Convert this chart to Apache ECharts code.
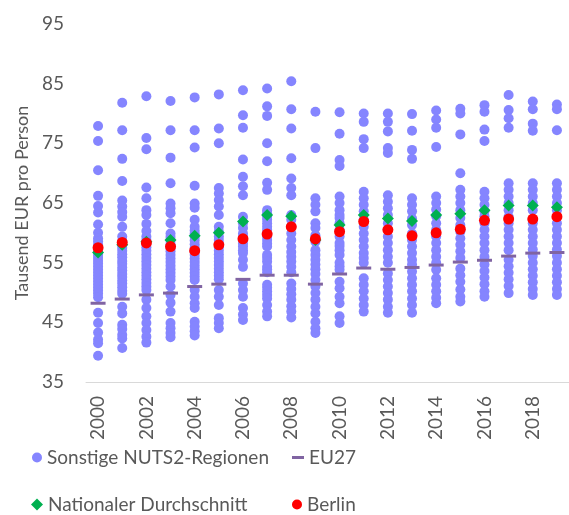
<!DOCTYPE html>
<html>
<head>
<meta charset="utf-8">
<script src="https://cdn.jsdelivr.net/npm/echarts@6/dist/echarts.min.js"></script>
<style>
html,body{margin:0;padding:0;background:#fff;}
#chart{width:569px;height:515px;}
</style>
</head>
<body>
<div id="chart"></div>
<script>
const years = ['2000','2001','2002','2003','2004','2005','2006','2007','2008','2009','2010','2011','2012','2013','2014','2015','2016','2017','2018','2019'];

const r2000 = [77.9, 75.4, 70.5, 66.2, 64.5, 63.4, 61.4, 60.0, 59.1, 58.6, 58.0, 57.4, 56.8, 56.3, 55.8, 55.3, 54.8, 54.3, 53.8, 53.3, 52.8, 52.3, 51.8, 51.3, 50.8, 50.3, 49.8, 49.2, 46.6, 44.9, 43.3, 42.1, 41.5, 39.4];
const r2001 = [81.8, 77.2, 72.4, 68.7, 65.4, 64.4, 63.5, 62.7, 61.0, 59.4, 58.6, 58.0, 57.5, 57.0, 56.4, 55.9, 55.3, 54.8, 54.2, 53.7, 53.1, 52.6, 52.0, 51.5, 50.9, 50.3, 49.8, 47.6, 46.5, 44.6, 43.9, 42.9, 42.3, 40.7];
const r2002 = [82.9, 75.9, 74.0, 67.6, 65.8, 63.8, 63.0, 61.5, 60.3, 59.4, 58.8, 58.2, 57.6, 57.0, 56.4, 55.8, 55.2, 54.6, 54.0, 53.4, 52.8, 52.2, 51.6, 51.0, 50.4, 48.8, 47.4, 46.0, 44.9, 43.7, 42.6, 41.6];
const r2003 = [82.1, 77.2, 72.6, 68.3, 64.9, 64.1, 63.3, 61.6, 59.9, 59.3, 58.7, 58.1, 57.5, 56.9, 56.3, 55.7, 55.1, 54.5, 53.9, 53.3, 52.7, 52.1, 51.0, 49.6, 48.3, 46.8, 44.9, 44.0, 43.2, 42.5];
const r2004 = [82.7, 77.2, 74.3, 67.9, 64.9, 64.2, 62.2, 61.0, 60.4, 59.9, 59.3, 58.7, 58.1, 57.5, 56.9, 56.3, 55.7, 55.1, 54.5, 53.9, 53.3, 52.7, 52.1, 50.4, 49.3, 48.2, 47.4, 45.1, 44.3, 43.5, 42.8];
const r2005 = [83.2, 77.5, 75.0, 67.5, 66.6, 65.5, 64.4, 63.0, 61.0, 60.2, 59.4, 58.8, 58.2, 57.6, 57.0, 56.4, 55.8, 55.2, 54.6, 54.0, 53.4, 52.8, 52.2, 50.4, 49.3, 47.9, 45.7, 44.9, 44.0];
const r2006 = [83.9, 79.7, 77.6, 72.3, 69.4, 67.8, 66.3, 62.7, 61.6, 60.8, 59.9, 59.3, 58.8, 58.2, 57.7, 57.1, 56.6, 55.5, 54.3, 51.5, 50.4, 49.3, 47.4, 46.3, 45.4];
const r2007 = [84.2, 81.2, 79.6, 75.0, 72.0, 68.4, 67.2, 63.8, 63.3, 62.7, 62.2, 61.6, 61.0, 60.5, 59.9, 59.4, 58.8, 58.2, 57.7, 56.3, 55.8, 55.2, 54.3, 53.9, 53.4, 51.3, 50.8, 50.2, 49.6, 49.0, 47.9, 46.8, 46.0];
const r2008 = [85.4, 80.7, 77.5, 72.5, 69.1, 67.5, 66.3, 63.0, 62.2, 61.0, 59.9, 58.8, 57.7, 56.8, 56.0, 55.2, 54.3, 53.4, 51.5, 50.6, 49.7, 48.8, 47.7, 46.8, 45.8];
const r2009 = [80.3, 74.2, 65.8, 64.7, 63.6, 61.6, 60.8, 59.6, 58.5, 57.1, 56.3, 55.5, 54.7, 53.9, 53.1, 52.1, 51.0, 49.9, 48.8, 47.6, 46.5, 45.1, 44.0, 43.2];
const r2010 = [80.2, 76.6, 72.2, 71.2, 66.1, 65.0, 63.8, 63.0, 62.5, 61.6, 60.5, 59.4, 58.3, 57.8, 57.1, 56.3, 55.0, 54.4, 53.8, 51.8, 50.7, 49.3, 48.2, 46.0, 44.9];
const r2011 = [80.0, 78.6, 75.7, 74.2, 66.9, 65.8, 64.7, 63.6, 62.2, 61.0, 59.9, 58.8, 57.7, 56.6, 55.8, 55.0, 52.4, 51.3, 50.2, 49.0, 47.9, 46.8];
const r2012 = [80.0, 78.6, 77.0, 74.2, 73.4, 66.3, 65.2, 64.1, 63.0, 61.6, 60.5, 59.4, 58.3, 57.1, 56.0, 55.0, 53.2, 52.1, 51.0, 49.9, 48.8, 47.6, 46.6];
const r2013 = [79.9, 77.1, 73.9, 72.4, 65.8, 64.7, 63.6, 62.4, 61.3, 59.9, 58.8, 57.7, 56.6, 55.5, 54.7, 53.5, 52.4, 51.3, 50.2, 49.0, 47.9, 46.6];
const r2014 = [80.5, 79.0, 77.6, 74.4, 66.1, 65.0, 63.9, 62.8, 61.6, 60.5, 59.4, 58.3, 57.1, 56.0, 55.0, 53.8, 52.4, 51.3, 50.2, 49.1, 48.2];
const r2015 = [80.8, 80.0, 76.5, 70.0, 67.2, 66.1, 65.0, 63.8, 62.5, 61.3, 60.2, 59.1, 58.0, 56.9, 55.8, 54.0, 52.9, 51.8, 50.5, 49.3, 48.5];
const r2016 = [81.4, 80.3, 77.3, 75.4, 66.9, 65.8, 64.7, 63.6, 62.8, 61.6, 60.5, 59.4, 58.3, 57.1, 56.0, 54.7, 53.6, 52.5, 51.4, 50.2, 49.3];
const r2017 = [83.1, 80.6, 79.2, 77.6, 68.3, 67.2, 66.1, 65.0, 63.8, 62.7, 61.6, 60.5, 59.4, 58.3, 57.1, 55.5, 54.4, 53.3, 52.2, 51.1, 49.9];
const r2018 = [82.0, 80.7, 78.3, 77.1, 68.3, 67.2, 66.1, 65.0, 63.8, 61.6, 60.5, 59.4, 58.3, 57.2, 56.1, 55.0, 53.9, 52.8, 51.7, 50.6, 49.6];
const r2019 = [81.5, 80.7, 77.2, 68.3, 67.2, 66.1, 65.0, 63.8, 61.6, 60.5, 59.4, 58.3, 57.2, 56.1, 55.0, 53.9, 52.8, 51.7, 50.6, 49.6];

const eu27 = [48.2, 48.9, 49.6, 49.9, 51.0, 51.4, 52.2, 52.9, 52.9, 51.4, 53.1, 54.1, 53.9, 54.2, 54.6, 55.1, 55.4, 56.1, 56.6, 56.7];
const national = [56.7, 58.0, 58.5, 58.8, 59.5, 60.0, 61.9, 63.0, 62.8, 58.8, 61.3, 63.0, 62.4, 62.0, 63.0, 63.2, 63.8, 64.6, 64.6, 64.3];
const berlin = [57.5, 58.4, 58.3, 57.7, 57.0, 58.0, 59.0, 59.8, 61.0, 59.0, 60.2, 61.9, 60.5, 59.5, 60.0, 60.6, 62.1, 62.3, 62.3, 62.7];

const yTicks = {min: 35, max: 95, step: 10};

const regionsByYear = [r2000, r2001, r2002, r2003, r2004, r2005, r2006, r2007, r2008, r2009,
  r2010, r2011, r2012, r2013, r2014, r2015, r2016, r2017, r2018, r2019];

const regionPoints = [];
regionsByYear.forEach((arr, i) => arr.forEach(v => regionPoints.push([years[i], v])));
const toPairs = arr => arr.map((v, i) => [years[i], v]);

const FONT = 'Lato';
const TXT = '#595959';

const chart = echarts.init(document.getElementById('chart'), null, {renderer: 'canvas'});
const legendBase = {
  orient: 'horizontal', padding: 0, selectedMode: false,
  textStyle: {fontFamily: FONT, fontSize: 19, color: TXT, padding: [0, 0, 0, 0]},
  itemGap: 0
};
chart.setOption({
  animation: false,
  backgroundColor: '#fff',
  textStyle: {fontFamily: FONT},
  grid: {left: 86, top: 24, width: 485, height: 358, containLabel: false},
  xAxis: {
    type: 'category', data: years, boundaryGap: true,
    axisTick: {show: false},
    axisLine: {lineStyle: {color: '#d9d9d9', width: 1}},
    axisLabel: {interval: 1, rotate: 90, margin: 14, fontSize: 19, fontFamily: FONT, color: TXT,
      verticalAlign: 'middle', padding: [0, 0, 16, 0]},
    splitLine: {show: false}
  },
  yAxis: {
    type: 'value', min: yTicks.min, max: yTicks.max, interval: yTicks.step,
    axisLine: {show: false}, axisTick: {show: false}, splitLine: {show: false},
    axisLabel: {margin: 22, fontSize: 19, fontFamily: FONT, color: TXT},
    name: 'Tausend EUR pro Person', nameLocation: 'middle', nameGap: 52,
    nameTextStyle: {fontSize: 18, fontFamily: FONT, color: TXT}
  },
  legend: [
    Object.assign({}, legendBase, {data: ['Sonstige NUTS2-Regionen'], left: 32, top: 448, itemWidth: 10, itemHeight: 10}),
    Object.assign({}, legendBase, {data: [{name: 'EU27', icon: 'rect'}], left: 292, top: 448, itemWidth: 12, itemHeight: 3}),
    Object.assign({}, legendBase, {data: [{name: 'Nationaler Durchschnitt', icon: 'diamond'}], left: 31, top: 495, itemWidth: 12, itemHeight: 12}),
    Object.assign({}, legendBase, {data: [{name: 'Berlin', icon: 'circle'}], left: 292, top: 495, itemWidth: 10, itemHeight: 10})
  ],
  series: [
    {name: 'Sonstige NUTS2-Regionen', type: 'scatter', symbol: 'circle', symbolSize: 10,
      itemStyle: {color: '#8585ff', opacity: 1}, data: regionPoints, z: 1},
    {name: 'EU27', type: 'scatter', symbol: 'rect', symbolSize: [15, 3],
      itemStyle: {color: '#8064a2', opacity: 1}, data: toPairs(eu27), z: 2},
    {name: 'Nationaler Durchschnitt', type: 'scatter', symbol: 'diamond', symbolSize: 12,
      itemStyle: {color: '#00b050', opacity: 1}, data: toPairs(national), z: 3},
    {name: 'Berlin', type: 'scatter', symbol: 'circle', symbolSize: 11,
      itemStyle: {color: '#ff0000', opacity: 1}, data: toPairs(berlin), z: 4}
  ]
});
</script>
</body>
</html>
